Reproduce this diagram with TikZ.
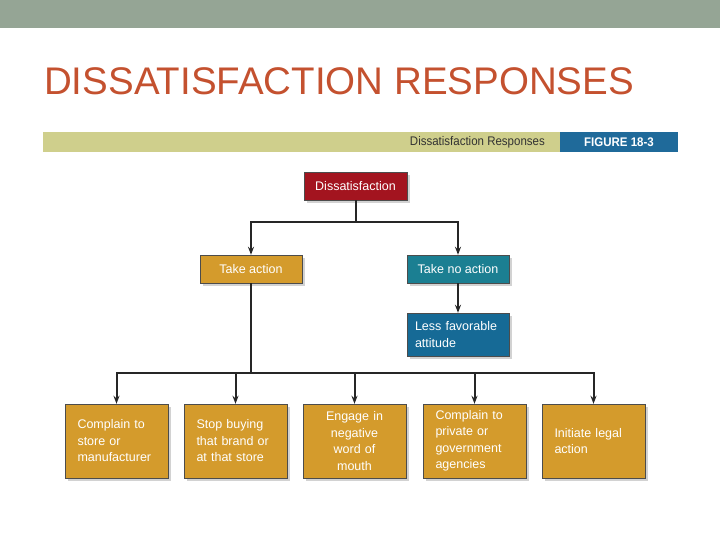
\documentclass[tikz,border=0pt]{standalone}
\usepackage{fontspec}
\setmainfont{Liberation Sans}
\usetikzlibrary{shadows,arrows.meta}
\definecolor{topbar}{HTML}{95A595}
\definecolor{titlec}{HTML}{C4512F}
\definecolor{olive}{HTML}{CFCF8C}
\definecolor{figblue}{HTML}{1F6A9A}
\definecolor{dred}{HTML}{A3141F}
\definecolor{gold}{HTML}{D49B2C}
\definecolor{teal}{HTML}{1B7F92}
\definecolor{lblue}{HTML}{166A96}
\tikzset{
 bx/.style={draw=black!70, line width=0.4pt, text=white, font=\fontsize{12.5}{16.5}\selectfont, inner sep=0pt, minimum height=28pt, drop shadow={shadow xshift=3pt, shadow yshift=-3pt, fill=black!35}},
 bbx/.style={bx, fill=gold, minimum width=103pt, minimum height=74pt, text width=78pt, align=left},
 conn/.style={draw=black!85, line width=2pt},
 arr/.style={conn, -{Stealth[length=8pt,width=6pt]}}
}
\begin{document}
\begin{tikzpicture}[x=1pt,y=-1pt]
\useasboundingbox (0,0) rectangle (720,540);
\fill[topbar] (0,0) rectangle (720,28);
\node[anchor=west, text=titlec, font=\fontsize{38.5}{44}\selectfont, inner sep=0pt] (title) at (44,81) {DISSATISFACTION RESPONSES};
\fill[olive] (43,132) rectangle (560,152);
\fill[figblue] (560,132) rectangle (678,152);
\node[anchor=east, font=\fontsize{12.5}{14}\selectfont, text=black!80, inner sep=0pt, xscale=0.92] (cap) at (545,142) {Dissatisfaction Responses};
\node[anchor=center, font=\bfseries\fontsize{12.5}{14}\selectfont, text=white, inner sep=0pt, xscale=0.92] (fig) at (619,142) {FIGURE 18-3};

\node[bx, fill=dred, minimum width=103pt] (d) at (355.5,186) {Dissatisfaction};
\node[bx, fill=gold, minimum width=102pt] (ta) at (251,269) {Take action};
\node[bx, fill=teal, minimum width=102pt] (tn) at (458,269) {Take no action};
\node[bx, fill=lblue, minimum width=102pt, minimum height=43pt, text width=86pt, align=left] (lf) at (458,334.5) {Less favorable\\attitude};

\node[bbx] (b1) at (116.5,441) {Complain to\\store or\\manufacturer};
\node[bbx] (b2) at (235.5,441) {Stop buying\\that brand or\\at that store};
\node[bbx, align=center] (b3) at (354.5,441) {Engage in\\negative\\word of mouth};
\node[bbx] (b4) at (474.5,441) {Complain to\\private or\\government\\agencies};
\node[bbx] (b5) at (593.5,441) {Initiate legal\\action};

\coordinate (j1) at (355.5,222);
\coordinate (j2) at (251,373);
\draw[conn] (d.south) -- (j1);
\draw[arr] (j1) -| (ta.north);
\draw[arr] (j1) -| (tn.north);
\draw[arr] (tn.south) -- (lf.north);
\draw[conn] (ta.south) -- (j2);
\draw[arr] (j2) -| (b1.north);
\draw[arr] (j2) -| (b2.north);
\draw[arr] (j2) -| (b3.north);
\draw[arr] (j2) -| (b4.north);
\draw[arr] (j2) -| (b5.north);
\end{tikzpicture}
\end{document}
